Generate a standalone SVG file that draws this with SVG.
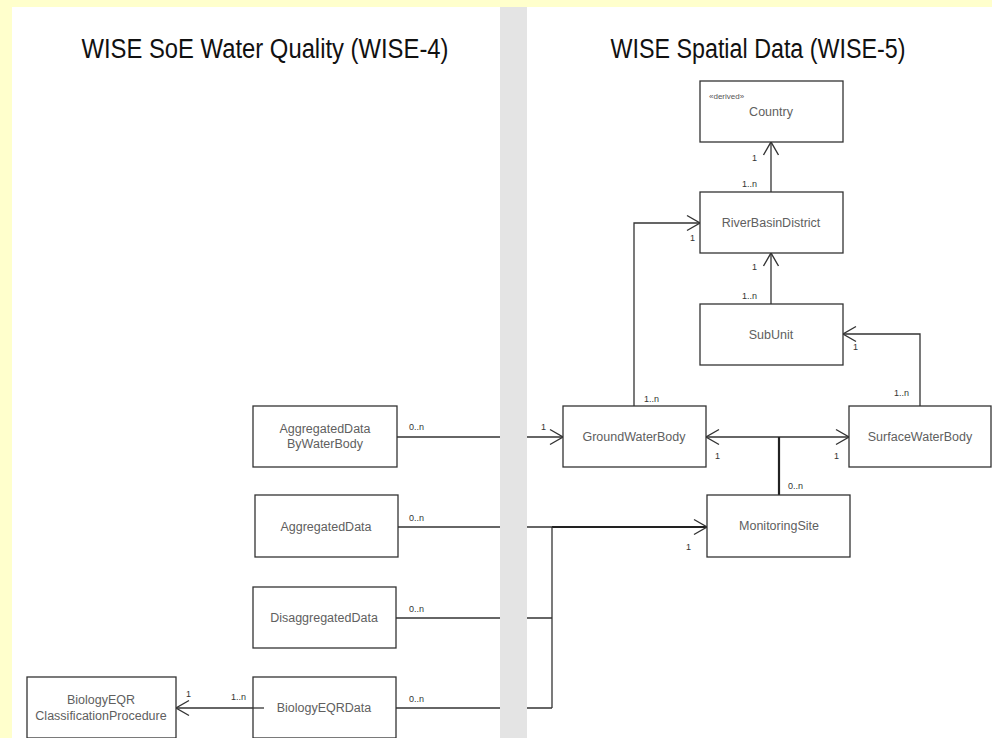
<svg xmlns="http://www.w3.org/2000/svg" width="992" height="738" viewBox="0 0 992 738">
<style>
.box{fill:#fff;stroke:#333;stroke-width:1.3}
.lbl{font-family:"Liberation Sans",Arial,sans-serif;font-size:12.5px;fill:#606060;text-anchor:middle}
.m{font-family:"Liberation Sans",Arial,sans-serif;font-size:9px;fill:#333}
.c{fill:none;stroke:#333;stroke-width:1.3}
.thick{fill:none;stroke:#222;stroke-width:2.2}
.title{font-family:"Liberation Sans",Arial,sans-serif;font-size:27px;fill:#111;text-anchor:middle}
</style>
<defs>
<marker id="arr" markerUnits="userSpaceOnUse" viewBox="0 0 16 18" markerWidth="16" markerHeight="18" refX="14" refY="9" orient="auto-start-reverse">
<path d="M1,1.5 L14,9 L1,16.5" fill="none" stroke="#333" stroke-width="1.4"/>
</marker>
</defs>
<rect x="0" y="0" width="992" height="738" fill="#ffffcc"/>
<rect x="12" y="7" width="980" height="731" fill="#fff"/>
<text class="title" x="265" y="58" textLength="367" lengthAdjust="spacingAndGlyphs">WISE SoE Water Quality (WISE-4)</text>
<text class="title" x="758" y="58" textLength="295" lengthAdjust="spacingAndGlyphs">WISE Spatial Data (WISE-5)</text>

<g id="connectors">
<path class="c" d="M397,437 H563" marker-end="url(#arr)"/>
<path class="c" d="M398,527 H552"/>
<path class="thick" d="M552,527 H707" marker-end="url(#arr)"/>
<path class="c" d="M396,618 H552"/>
<path class="c" d="M396,708 H552"/>
<path class="c" d="M552,527 V708"/>
<path class="c" d="M264,708 H176" marker-end="url(#arr)"/>
<path class="c" d="M706,437 H849" marker-start="url(#arr)" marker-end="url(#arr)"/>
<path class="thick" d="M779,437 V495"/>
<path class="c" d="M634,406 V223 H700" marker-end="url(#arr)"/>
<path class="c" d="M771,192 V142" marker-end="url(#arr)"/>
<path class="c" d="M771,304 V253" marker-end="url(#arr)"/>
<path class="c" d="M920,406 V334 H843" marker-end="url(#arr)"/>
<text class="m" x="409" y="430">0..n</text>
<text class="m" x="541" y="430">1</text>
<text class="m" x="409" y="521">0..n</text>
<text class="m" x="686" y="550">1</text>
<text class="m" x="409" y="612">0..n</text>
<text class="m" x="409" y="702">0..n</text>
<text class="m" x="231" y="700">1..n</text>
<text class="m" x="186" y="697">1</text>
<text class="m" x="715" y="459">1</text>
<text class="m" x="834" y="459">1</text>
<text class="m" x="788" y="489">0..n</text>
<text class="m" x="644" y="402">1..n</text>
<text class="m" x="690" y="241">1</text>
<text class="m" x="752" y="161">1</text>
<text class="m" x="742" y="187">1..n</text>
<text class="m" x="752" y="270">1</text>
<text class="m" x="742" y="299">1..n</text>
<text class="m" x="853" y="350">1</text>
<text class="m" x="894" y="396">1..n</text>
</g>

<rect x="500" y="7" width="27" height="731" fill="#e4e4e4"/>

<g id="country">
<rect class="box" x="700" y="81" width="143" height="61"/>
<text class="m" x="709" y="99" style="font-size:8px;fill:#555">«derived»</text>
<text class="lbl" x="771" y="116">Country</text>
</g>
<g id="riverbasindistrict">
<rect class="box" x="700" y="192" width="143" height="61"/>
<text class="lbl" x="771" y="227">RiverBasinDistrict</text>
</g>
<g id="subunit">
<rect class="box" x="700" y="304" width="143" height="61"/>
<text class="lbl" x="771" y="339">SubUnit</text>
</g>
<g id="groundwaterbody">
<rect class="box" x="563" y="406" width="143" height="61"/>
<text class="lbl" x="634" y="441">GroundWaterBody</text>
</g>
<g id="surfacewaterbody">
<rect class="box" x="849" y="406" width="142" height="61"/>
<text class="lbl" x="920" y="441">SurfaceWaterBody</text>
</g>
<g id="monitoringsite">
<rect class="box" x="707" y="495" width="143" height="62"/>
<text class="lbl" x="779" y="530">MonitoringSite</text>
</g>
<g id="aggregateddatabywaterbody">
<rect class="box" x="253" y="406" width="144" height="61"/>
<text class="lbl" x="325" y="433">AggregatedData</text>
<text class="lbl" x="325" y="448">ByWaterBody</text>
</g>
<g id="aggregateddata">
<rect class="box" x="255" y="495" width="143" height="62"/>
<text class="lbl" x="326" y="531">AggregatedData</text>
</g>
<g id="disaggregateddata">
<rect class="box" x="253" y="587" width="143" height="61"/>
<text class="lbl" x="324" y="622">DisaggregatedData</text>
</g>
<g id="biologyeqrdata">
<rect class="box" x="253" y="677" width="143" height="61"/>
<text class="lbl" x="324" y="712">BiologyEQRData</text>
</g>
<g id="biologyeqrclassificationprocedure">
<rect class="box" x="27" y="677" width="149" height="61"/>
<text class="lbl" x="101" y="704">BiologyEQR</text>
<text class="lbl" x="101" y="720">ClassificationProcedure</text>
</g>
<path d="M253,708 H264" class="c"/>
</svg>
